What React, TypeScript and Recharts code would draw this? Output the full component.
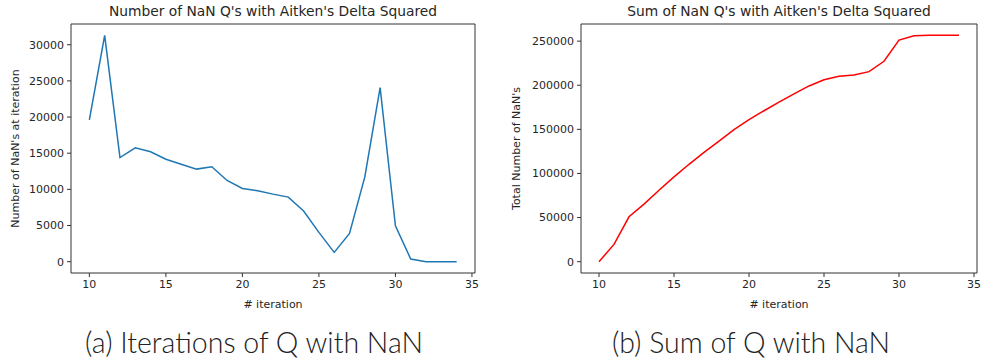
import { LineChart, Line, XAxis, YAxis, ReferenceLine } from 'recharts'

const iterations = [10, 11, 12, 13, 14, 15, 16, 17, 18, 19, 20, 21, 22, 23, 24, 25, 26, 27, 28, 29, 30, 31, 32, 33, 34]

const nanCounts = [
  19600, 31300, 14400, 15750, 15200, 14170, 13480, 12800, 13120, 11230,
  10120, 9800, 9340, 8930, 7000, 4050, 1290, 3910, 11730, 24070,
  4970, 370, 0, 0, 0,
]

const nanTotals = [
  0, 19600, 50900, 65300, 81000, 96200, 110400, 123900, 136700, 149800,
  161000, 171100, 180900, 190300, 199200, 206200, 210200, 211500, 215400, 227200,
  251200, 256200, 256600, 256600, 256600,
]

const xTicks = [10, 15, 20, 25, 30, 35]
const countTicks = [0, 5000, 10000, 15000, 20000, 25000, 30000]
const totalTicks = [0, 50000, 100000, 150000, 200000, 250000]

const countData = iterations.map((it, i) => ({ it, v: nanCounts[i] }))
const totalData = iterations.map((it, i) => ({ it, v: nanTotals[i] }))

// matplotlib-style 5% padding around the data
const X_DOMAIN: [number, number] = [8.8, 35.2]
const COUNT_DOMAIN: [number, number] = [-1565, 32865]
const TOTAL_DOMAIN: [number, number] = [-12830, 269430]

const FONT = '"DejaVu Sans", sans-serif'
const TEXT = '#262626'
const FRAME = '#333'
const TICK = { fill: TEXT, fontSize: 11, fontFamily: FONT }

type PanelProps = {
  data: { it: number; v: number }[]
  width: number
  domain: [number, number]
  yTicks: number[]
  yWidth: number
  rightMargin: number
  color: string
  yLabel: string
  yLabelOffset: number
}

function Panel({ data, width, domain, yTicks, yWidth, rightMargin, color, yLabel, yLabelOffset }: PanelProps) {
  return (
    <LineChart
      width={width}
      height={320}
      data={data}
      margin={{ top: 24, right: rightMargin, bottom: 0, left: 0 }}
    >
      <XAxis
        dataKey="it"
        type="number"
        domain={X_DOMAIN}
        ticks={xTicks}
        interval={0}
        height={47}
        tick={TICK}
        tickSize={4}
        tickMargin={3}
        stroke={FRAME}
        label={{ value: '# iteration', position: 'insideBottom', offset: 12, fill: TEXT, fontSize: 11, fontFamily: FONT }}
      />
      <YAxis
        type="number"
        domain={domain}
        ticks={yTicks}
        interval={0}
        width={yWidth}
        tick={TICK}
        tickSize={4}
        tickMargin={3}
        stroke={FRAME}
        label={{ value: yLabel, angle: -90, position: 'insideLeft', offset: yLabelOffset, fill: TEXT, fontSize: 11, fontFamily: FONT, style: { textAnchor: 'middle' } }}
      />
      <ReferenceLine y={domain[1]} stroke={FRAME} strokeWidth={1} />
      <ReferenceLine x={X_DOMAIN[1]} stroke={FRAME} strokeWidth={1} />
      <Line
        dataKey="v"
        stroke={color}
        strokeWidth={1.5}
        dot={false}
        isAnimationActive={false}
      />
    </LineChart>
  )
}

const titleStyle = {
  position: 'absolute' as const,
  top: 3,
  fontFamily: FONT,
  fontSize: 13.8,
  color: TEXT,
  textAlign: 'center' as const,
  whiteSpace: 'nowrap' as const,
}

const captionStyle = {
  position: 'absolute' as const,
  top: 325,
  fontFamily: 'Lato, sans-serif',
  fontWeight: 300,
  fontSize: 28.5,
  color: '#222',
  textAlign: 'center' as const,
  whiteSpace: 'nowrap' as const,
}

export default function App() {
  return (
    <div style={{ position: 'absolute', left: 0, top: 0, width: 981, height: 364, background: '#fff', overflow: 'hidden' }}>
      <div style={{ position: 'absolute', left: 0, top: 0 }}>
        <Panel
          data={countData}
          width={490}
          domain={COUNT_DOMAIN}
          yTicks={countTicks}
          yWidth={71}
          rightMargin={15}
          color="#1f77b4"
          yLabel="Number of NaN's at iteration"
          yLabelOffset={15}
        />
      </div>
      <div style={{ position: 'absolute', left: 490, top: 0 }}>
        <Panel
          data={totalData}
          width={491}
          domain={TOTAL_DOMAIN}
          yTicks={totalTicks}
          yWidth={91}
          rightMargin={4}
          color="#ff0000"
          yLabel="Total Number of NaN's"
          yLabelOffset={26}
        />
      </div>
      <div style={{ ...titleStyle, left: 73, width: 400 }}>Number of NaN Q's with Aitken's Delta Squared</div>
      <div style={{ ...titleStyle, left: 581, width: 396 }}>Sum of NaN Q's with Aitken's Delta Squared</div>
      <div style={{ ...captionStyle, left: 54, width: 400 }}>(a) Iterations of Q with NaN</div>
      <div style={{ ...captionStyle, left: 551, width: 400 }}>(b) Sum of Q with NaN</div>
    </div>
  )
}
